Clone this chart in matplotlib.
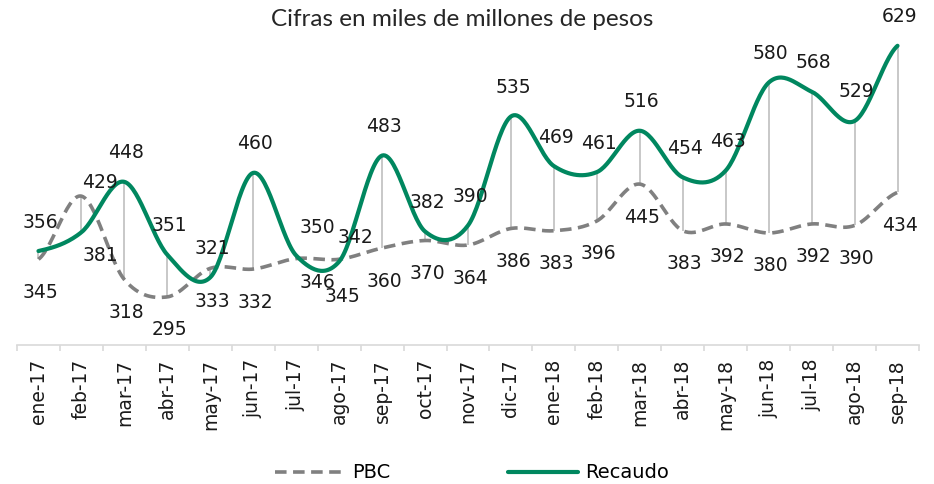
import numpy as np
import matplotlib
matplotlib.use("Agg")
import matplotlib.pyplot as plt

months = ["ene-17", "feb-17", "mar-17", "abr-17", "may-17", "jun-17", "jul-17",
          "ago-17", "sep-17", "oct-17", "nov-17", "dic-17", "ene-18", "feb-18",
          "mar-18", "abr-18", "may-18", "jun-18", "jul-18", "ago-18", "sep-18"]
pbc = [345, 429, 318, 295, 333, 332, 346, 345, 360, 370, 364, 386, 383, 396,
       445, 383, 392, 380, 392, 390, 434]
recaudo = [356, 381, 448, 351, 321, 460, 350, 342, 483, 382, 390, 535, 469, 461,
           516, 454, 463, 580, 568, 529, 629]

GREEN = "#00875F"
GRAY = "#808080"
TEXT = "#1a1a1a"
FONT = "DejaVu Sans"

# label offsets in pixels (default + a few hand-placed ones)
rec_off = {1: (19, -23), 6: (21, 28), 7: (16, 24)}
pbc_off = {1: (19, 14), 6: (21, -24), 7: (3, -37)}


def smooth(vals, n=30):
    # Catmull-Rom spline through the points, like Excel's smoothed line
    p = np.array(vals, dtype=float)
    p = np.concatenate([[p[0]], p, [p[-1]]])
    xs, ys = [], []
    for i in range(1, len(p) - 2):
        p0, p1, p2, p3 = p[i - 1], p[i], p[i + 1], p[i + 2]
        m1 = (p2 - p0) / 2
        m2 = (p3 - p1) / 2
        t = np.linspace(0, 1, n, endpoint=False)
        h00 = 2 * t**3 - 3 * t**2 + 1
        h10 = t**3 - 2 * t**2 + t
        h01 = -2 * t**3 + 3 * t**2
        h11 = t**3 - t**2
        ys.append(h00 * p1 + h10 * m1 + h01 * p2 + h11 * m2)
        xs.append(i - 1 + t)
    xs.append([len(vals) - 1])
    ys.append([vals[-1]])
    return np.concatenate(xs), np.concatenate(ys)


fig = plt.figure(figsize=(9.34, 4.84), dpi=100)
ax = fig.add_axes([17 / 934, 139 / 484, 902 / 934, 315 / 484])

x = np.arange(len(months))
ax.vlines(x, pbc, recaudo, color="#BFBFBF", lw=1.2, zorder=1)

sx, sy = smooth(pbc)
ax.plot(sx, sy, color=GRAY, lw=2.6, ls=(0, (3.2, 1.8)), zorder=2, label="PBC")
sx, sy = smooth(recaudo)
ax.plot(sx, sy, color=GREEN, lw=3.0, zorder=3, label="Recaudo",
        solid_capstyle="round")

for i in x:
    dx, dy = rec_off.get(i, (2, 29))
    ax.annotate(str(recaudo[i]), (i, recaudo[i]), xytext=(dx, dy),
                textcoords="offset pixels", ha="center", va="center",
                fontsize=13.5, color=TEXT, family=FONT)
    dx, dy = pbc_off.get(i, (2, -33))
    ax.annotate(str(pbc[i]), (i, pbc[i]), xytext=(dx, dy),
                textcoords="offset pixels", ha="center", va="center",
                fontsize=13.5, color=TEXT, family=FONT)

ax.set_xlim(-0.5, len(months) - 0.5)
ax.set_ylim(231, 650)
for s in ["top", "right", "left"]:
    ax.spines[s].set_visible(False)
ax.spines["bottom"].set_color("#D9D9D9")
ax.spines["bottom"].set_linewidth(1.2)
ax.set_yticks([])
ax.set_xticks(x)
ax.set_xticklabels(months, rotation=90, fontsize=13.5, color=TEXT, family=FONT)
ax.tick_params(axis="x", which="major", length=0, pad=10)
ax.set_xticks(np.arange(-0.5, len(months), 1), minor=True)
ax.tick_params(axis="x", which="minor", length=4, color="#D9D9D9", width=1.2)

fig.text(462 / 934, 1 - 19 / 484, "Cifras en miles de millones de pesos",
         ha="center", va="center", fontsize=17.5, color="#262626", family="Lato")

fig.legend(loc="center", bbox_to_anchor=(472 / 934, 11 / 484), ncol=2,
           frameon=False, handlelength=3.6, columnspacing=6.0, handletextpad=0.4,
           prop={"family": FONT, "size": 14})

fig.savefig("out.png", dpi=100)
